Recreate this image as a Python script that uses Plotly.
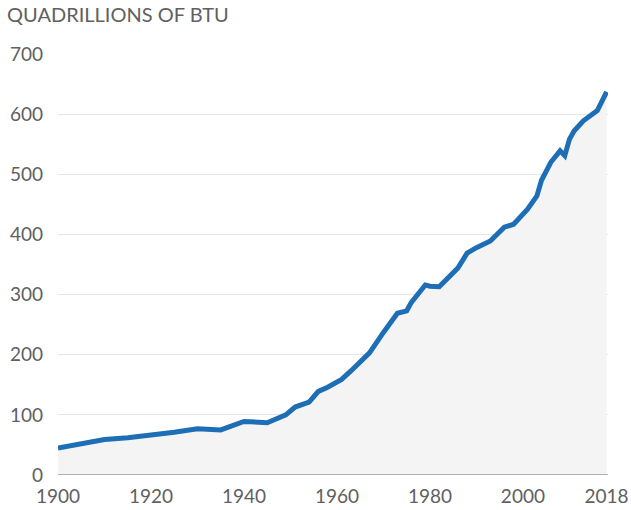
import plotly.graph_objects as go

years = [1900, 1905, 1910, 1915, 1920, 1925, 1930, 1935, 1940, 1945, 1949, 1951, 1954,
         1956, 1958, 1961, 1963, 1965, 1967, 1970, 1973, 1975, 1976, 1979, 1980, 1982,
         1984, 1986, 1988, 1990, 1993, 1994, 1996, 1998, 2000, 2001, 2003, 2004, 2006,
         2007, 2008, 2009, 2010, 2011, 2013, 2016, 2018]
values = [45, 51, 59, 62, 66, 71, 77, 75, 89, 87, 100, 113, 121,
          139, 146, 159, 173, 187, 203, 237, 269, 273, 287, 316, 314, 313,
          330, 344, 369, 378, 389, 396, 412, 417, 433, 442, 464, 490, 520,
          531, 539, 531, 558, 572, 589, 606, 637]

x_ticks = [1900, 1920, 1940, 1960, 1980, 2000, 2018]
y_ticks = [0, 100, 200, 300, 400, 500, 600, 700]
title_text = "QUADRILLIONS OF BTU"

FONT = "Lato"
GRAY = "#606060"

fig = go.Figure()
fig.add_trace(go.Scatter(
    x=years, y=values, mode="lines",
    line=dict(color="#1e6eb6", width=5),
    fill="tozeroy", fillcolor="#f4f4f4",
    hoverinfo="skip",
))

fig.update_layout(
    width=631, height=510,
    margin=dict(l=58, r=23, t=54, b=35, autoexpand=False),
    paper_bgcolor="white", plot_bgcolor="white",
    showlegend=False,
    font=dict(family=FONT, color=GRAY, size=19),
    title=dict(text=title_text, x=7/631, xanchor="left", xref="container",
               y=1 - 8/510, yanchor="top", yref="container", automargin=False,
               font=dict(family=FONT, size=20, color=GRAY)),
    xaxis=dict(range=[1900, 2018.3], tickvals=x_ticks, ticktext=[str(v) for v in x_ticks],
               showgrid=False, zeroline=False, showline=False, ticks="",
               ticklabelstandoff=8, automargin=False,
               tickfont=dict(size=19, color=GRAY), fixedrange=True),
    yaxis=dict(range=[0, 700], tickvals=y_ticks, showgrid=True, gridcolor="#e6e6e6",
               gridwidth=1, zeroline=False, showline=False, ticks="", ticklabelstandoff=14,
               automargin=False,
               tickfont=dict(size=19, color=GRAY), fixedrange=True),
)
fig.add_shape(type="line", xref="paper", yref="y", x0=0, x1=1, y0=0, y1=0,
              line=dict(color="#9a9a9a", width=1.5), layer="above")

fig.write_html("out.html")
